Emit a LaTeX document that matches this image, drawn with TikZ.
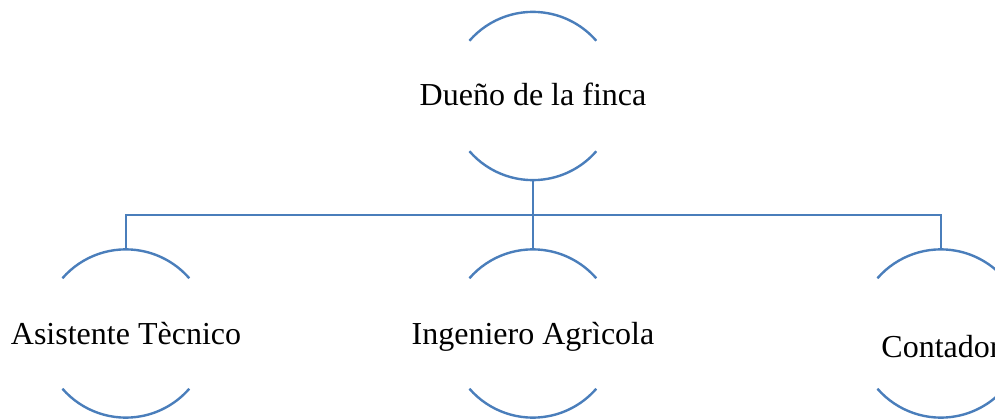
\documentclass[tikz,border=0pt]{standalone}
\usepackage{fontspec}
\setmainfont{Liberation Serif}
\definecolor{linkblue}{HTML}{4A7EBB}
\begin{document}
\begin{tikzpicture}[x=1pt,y=1pt,
  ring/.style={circle, minimum size=168pt, inner sep=0pt, draw=none},
  lbl/.style={anchor=base, inner sep=0pt, font=\fontsize{32}{38}\selectfont, text=black},
  wire/.style={draw=linkblue, line width=2.4pt}]
\useasboundingbox (0,0) rectangle (995,418);
\node[ring] (owner) at (533,322) {};
\node[ring] (tech) at (126,84.5) {};
\node[ring] (ing) at (533,84.5) {};
\node[ring] (cont) at (941,84.5) {};
\node[lbl] (ownerT) at ([yshift=-10pt]owner.center) {Dueño de la finca};
\node[lbl] (techT) at ([yshift=-10.5pt]tech.center) {Asistente Tècnico};
\node[lbl] (ingT) at ([yshift=-10.5pt]ing.center) {Ingeniero Agrìcola};
\node[lbl] (contT) at ([yshift=-23.5pt]cont.center) {Contador};
\foreach \n in {owner,tech,ing,cont}{
  \draw[wire] (\n.139) arc[start angle=139, end angle=41, radius=84pt];
  \draw[wire] (\n.221) arc[start angle=221, end angle=319, radius=84pt];
}
\coordinate (bus) at (0,203);
\draw[wire] (owner.south) -- (owner.south |- bus);
\draw[wire] (tech.north) |- (cont.north |- bus) -- (cont.north);
\draw[wire] (ing.north) -- (ing.north |- bus);
\end{tikzpicture}
\end{document}
